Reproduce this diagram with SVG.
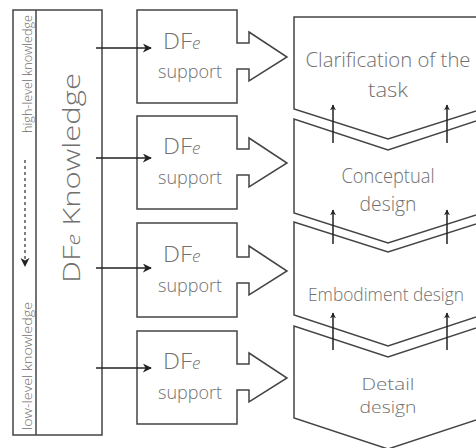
<svg xmlns="http://www.w3.org/2000/svg" width="476" height="448" viewBox="0 0 476 448">
  <defs>
    <style>
      .ln { fill: none; stroke: #444; stroke-width: 1.5; }
      .shape { fill: #fff; stroke: #444; stroke-width: 1.5; stroke-linejoin: miter; }
      .txt { font-family: "Open Sans", "DejaVu Sans Condensed", "Liberation Sans", sans-serif; font-weight: 300; fill: #707070; }
      .arr { fill: none; stroke: #222; stroke-width: 1.5; }
      .dash { fill: none; stroke: #555; stroke-width: 1.5; stroke-dasharray: 3 3; }
    </style>
    <marker id="head" viewBox="0 0 10 10" refX="9" refY="5" markerWidth="6" markerHeight="6" orient="auto" markerUnits="userSpaceOnUse">
      <path d="M0 0 L10 5 L0 10 L3 5 Z" fill="#222"/>
    </marker>
    <marker id="headBig" viewBox="0 0 10 10" refX="9" refY="5" markerWidth="9" markerHeight="9" orient="auto" markerUnits="userSpaceOnUse">
      <path d="M0 0 L10 5 L0 10 L3 5 Z" fill="#222"/>
    </marker>
  </defs>
  <rect width="476" height="448" fill="#fff"/>

  <!-- knowledge column -->
  <g id="knowledge">
    <rect x="13" y="10" width="89" height="425" class="shape"/>
    <line x1="36" y1="10" x2="36" y2="435" class="ln"/>
    <text class="txt" font-size="24" transform="translate(80,283) rotate(-90)" textLength="210" lengthAdjust="spacingAndGlyphs">DF<tspan font-size="18" font-style="italic">e</tspan> Knowledge</text>
    <text class="txt" font-size="12" transform="translate(32,133) rotate(-90)" textLength="118" lengthAdjust="spacingAndGlyphs">high-level knowledge</text>
    <text class="txt" font-size="12" transform="translate(32,430) rotate(-90)" textLength="128" lengthAdjust="spacingAndGlyphs">low-level knowledge</text>
    <line x1="25" y1="160" x2="25" y2="266" class="dash" marker-end="url(#headBig)"/>
  </g>

  <!-- design stages -->
  <g id="stage-clarification">
    <path d="M482 17 H294 V109 L388 139 L482 109" class="shape"/>
    <text class="txt" font-size="20" x="388" y="67" text-anchor="middle" textLength="165" lengthAdjust="spacingAndGlyphs">Clarification of the</text>
    <text class="txt" font-size="20" x="388" y="97" text-anchor="middle" textLength="40" lengthAdjust="spacingAndGlyphs">task</text>
  </g>
  <g id="stage-conceptual">
    <path d="M482 119 L388 150 L294 119 V213 L388 243 L482 213" class="shape"/>
    <text class="txt" font-size="20" x="388" y="183" text-anchor="middle" textLength="93" lengthAdjust="spacingAndGlyphs">Conceptual</text>
    <text class="txt" font-size="20" x="388" y="211" text-anchor="middle" textLength="57" lengthAdjust="spacingAndGlyphs">design</text>
  </g>
  <g id="stage-embodiment">
    <path d="M482 222 L388 252 L294 222 V315 L388 346 L482 315" class="shape"/>
    <text class="txt" font-size="19" x="386" y="301" text-anchor="middle" textLength="156" lengthAdjust="spacingAndGlyphs">Embodiment design</text>
  </g>
  <g id="stage-detail">
    <path d="M482 326 L388 357 L294 326 V418 L388 449 L482 418" class="shape"/>
    <text class="txt" font-size="17" x="388" y="390" text-anchor="middle" textLength="53" lengthAdjust="spacingAndGlyphs">Detail</text>
    <text class="txt" font-size="17" x="388" y="413" text-anchor="middle" textLength="57" lengthAdjust="spacingAndGlyphs">design</text>
  </g>

  <!-- DFe support blocks -->
  <g id="support-1">
    <path d="M137 10 H237 V43 H249 V32 L287 57 L249 81 V69 H237 V103 H137 Z" class="shape"/>
    <text class="txt" font-size="22" x="163" y="49" textLength="29" lengthAdjust="spacingAndGlyphs">DF</text>
    <text class="txt" font-size="17" font-style="italic" x="192" y="49">e</text>
    <text class="txt" font-size="18" x="158" y="78" textLength="64" lengthAdjust="spacingAndGlyphs">support</text>
  </g>
  <g id="support-2">
    <path d="M137 116 H237 V149 H249 V138 L287 163 L249 187 V175 H237 V209 H137 Z" class="shape"/>
    <text class="txt" font-size="22" x="163" y="154" textLength="29" lengthAdjust="spacingAndGlyphs">DF</text>
    <text class="txt" font-size="17" font-style="italic" x="192" y="154">e</text>
    <text class="txt" font-size="18" x="158" y="184" textLength="64" lengthAdjust="spacingAndGlyphs">support</text>
  </g>
  <g id="support-3">
    <path d="M137 223 H237 V257 H249 V246 L287 271 L249 295 V283 H237 V317 H137 Z" class="shape"/>
    <text class="txt" font-size="22" x="163" y="262" textLength="29" lengthAdjust="spacingAndGlyphs">DF</text>
    <text class="txt" font-size="17" font-style="italic" x="192" y="262">e</text>
    <text class="txt" font-size="18" x="158" y="292" textLength="64" lengthAdjust="spacingAndGlyphs">support</text>
  </g>
  <g id="support-4">
    <path d="M137 331 H237 V364 H249 V353 L287 378 L249 402 V390 H237 V424 H137 Z" class="shape"/>
    <text class="txt" font-size="22" x="163" y="369" textLength="29" lengthAdjust="spacingAndGlyphs">DF</text>
    <text class="txt" font-size="17" font-style="italic" x="192" y="369">e</text>
    <text class="txt" font-size="18" x="158" y="399" textLength="64" lengthAdjust="spacingAndGlyphs">support</text>
  </g>

  <!-- connectors -->
  <g id="connectors">
    <line x1="96" y1="48" x2="151" y2="48" class="arr" marker-end="url(#headBig)"/>
    <line x1="96" y1="158" x2="151" y2="158" class="arr" marker-end="url(#headBig)"/>
    <line x1="96" y1="268" x2="151" y2="268" class="arr" marker-end="url(#headBig)"/>
    <line x1="96" y1="368" x2="151" y2="368" class="arr" marker-end="url(#headBig)"/>

    <line x1="333" y1="143" x2="333" y2="105" class="arr" marker-end="url(#head)"/>
    <line x1="447" y1="143" x2="447" y2="105" class="arr" marker-end="url(#head)"/>
    <line x1="333" y1="244" x2="333" y2="210" class="arr" marker-end="url(#head)"/>
    <line x1="447" y1="244" x2="447" y2="210" class="arr" marker-end="url(#head)"/>
    <line x1="333" y1="350" x2="333" y2="313" class="arr" marker-end="url(#head)"/>
    <line x1="447" y1="350" x2="447" y2="313" class="arr" marker-end="url(#head)"/>
  </g>
</svg>
